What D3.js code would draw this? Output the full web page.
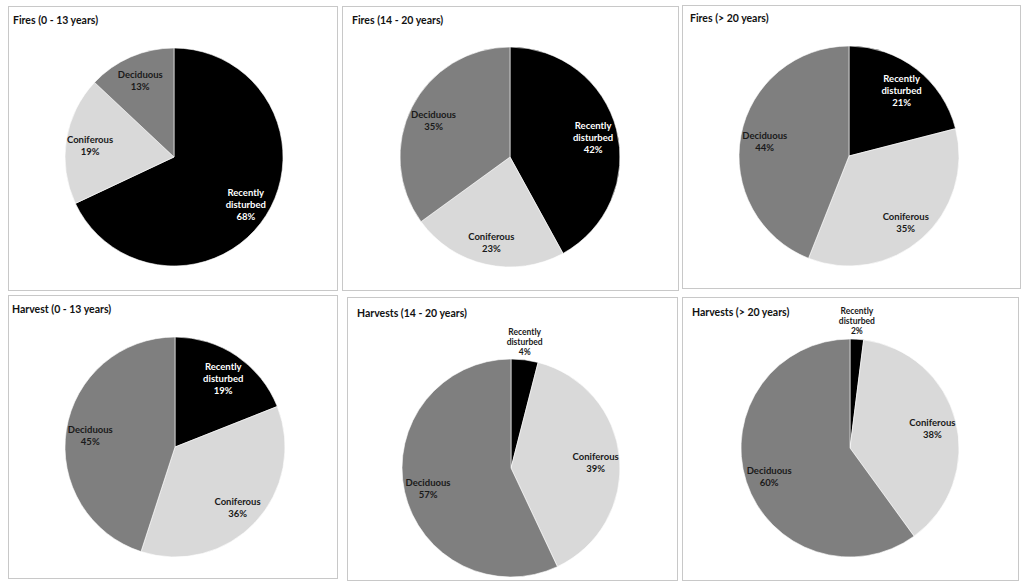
<!DOCTYPE html>
<html>
<head>
<meta charset="utf-8">
<script src="https://cdn.jsdelivr.net/npm/d3@7"></script>
<style>
  body { margin: 0; background: #fff; }
  svg text { font-family: Lato, "Open Sans", sans-serif; font-weight: bold; }
</style>
</head>
<body>
<div id="chart"></div>
<script>
// categories in clockwise order from 12 o'clock
const categories = ["Recently disturbed", "Coniferous", "Deciduous"];
const panelTitles = [
  "Fires (0 - 13 years)", "Fires (14 - 20 years)", "Fires (> 20 years)",
  "Harvest (0 - 13 years)", "Harvests (14 - 20 years)", "Harvests (> 20 years)"
];
const fires0to13 = [68, 19, 13];
const fires14to20 = [42, 23, 35];
const firesOver20 = [21, 35, 44];
const harvest0to13 = [19, 36, 45];
const harvest14to20 = [4, 39, 57];
const harvestOver20 = [2, 38, 60];
const panelValues = [fires0to13, fires14to20, firesOver20, harvest0to13, harvest14to20, harvestOver20];

const W = 1024, H = 586;
const sliceColor = d3.scaleOrdinal().domain(categories).range(["#000000", "#d9d9d9", "#7f7f7f"]);
const labelColor = d3.scaleOrdinal().domain(categories).range(["#ffffff", "#1a1a1a", "#1a1a1a"]);

// panel frames (x0, y0, x1, y1) and pie centre / radius
const layout = [
  { box: [8, 6, 337, 290],     title: [13, 24],  c: [174, 157], r: 109 },
  { box: [342, 6, 678, 290],   title: [352, 24], c: [510, 157], r: 110 },
  { box: [682, 5, 1020, 288],  title: [690, 22], c: [849, 156], r: 110 },
  { box: [8, 295, 337, 578],   title: [12, 313], c: [175, 447], r: 110 },
  { box: [347, 297, 677, 580], title: [357, 317], c: [511, 468], r: 109 },
  { box: [682, 297, 1018, 580], title: [692, 316], c: [850, 448], r: 109 }
];

const svg = d3.select("#chart").append("svg")
  .attr("width", W)
  .attr("height", H);

const pie = d3.pie().sort(null).value(d => d.value);

panelValues.forEach((vals, i) => {
  const L = layout[i];
  const g = svg.append("g");

  g.append("rect")
    .attr("x", L.box[0] + 0.5).attr("y", L.box[1] + 0.5)
    .attr("width", L.box[2] - L.box[0]).attr("height", L.box[3] - L.box[1])
    .attr("fill", "#fff")
    .attr("stroke", "#c8c8c8");

  g.append("text")
    .attr("x", L.title[0]).attr("y", L.title[1])
    .attr("font-size", 10.5)
    .attr("fill", "#111")
    .text(panelTitles[i]);

  const data = categories.map((c, j) => ({ cat: c, value: vals[j] }));
  const arcs = pie(data);
  const arc = d3.arc().innerRadius(0).outerRadius(L.r);
  const labelArc = d3.arc().innerRadius(L.r * 0.78).outerRadius(L.r * 0.78);

  const pg = g.append("g").attr("transform", `translate(${L.c[0]},${L.c[1]})`);

  pg.selectAll("path")
    .data(arcs)
    .enter()
    .append("path")
    .attr("d", arc)
    .attr("fill", d => sliceColor(d.data.cat))
    .attr("stroke", "#ffffff")
    .attr("stroke-width", 0.6);

  arcs.forEach(a => {
    const lines = a.data.cat.split(" ");
    lines.push(a.data.value + "%");
    const small = a.data.value < 8;
    const lh = small ? 10 : 12;
    let x, y0;
    if (small) {
      // small slice: label sits above the pie
      const mid = (a.startAngle + a.endAngle) / 2;
      x = L.r * Math.sin(mid);
      const yb = -L.r * Math.cos(mid) - 5;
      y0 = yb - (lines.length - 1) * lh;
    } else {
      const [cx, cy] = labelArc.centroid(a);
      x = cx;
      y0 = cy - (lines.length - 1) * lh / 2 + 5.5;
    }
    const t = pg.append("text")
      .attr("text-anchor", "middle")
      .attr("font-size", small ? 8.5 : 9.5)
      .attr("fill", small ? "#1a1a1a" : labelColor(a.data.cat));
    lines.forEach((ln, k) => {
      t.append("tspan").attr("x", x).attr("y", y0 + k * lh).text(ln);
    });
  });
});
</script>
</body>
</html>
